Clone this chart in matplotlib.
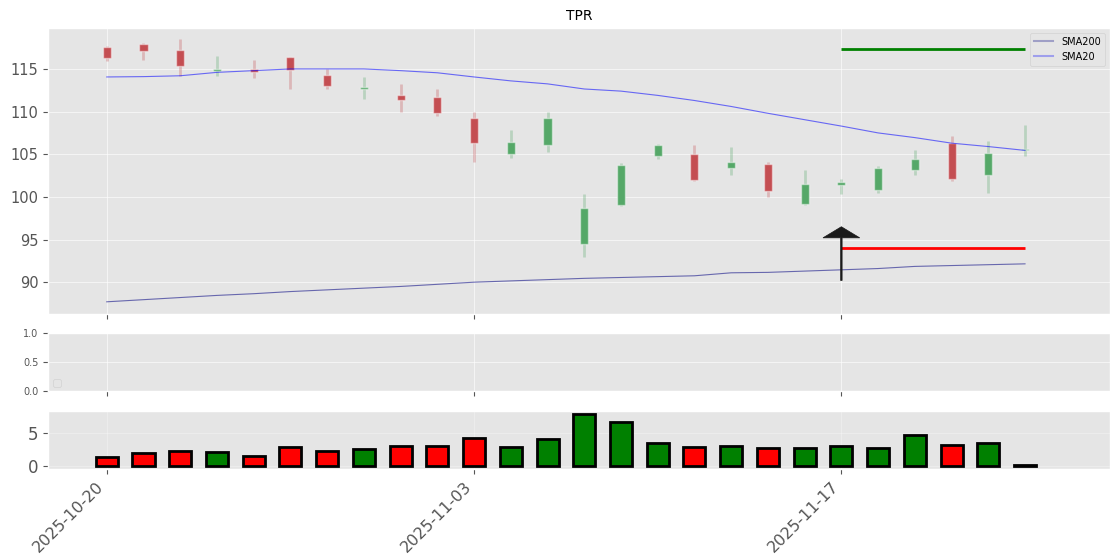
import matplotlib
matplotlib.use('Agg')
import matplotlib.pyplot as plt
import numpy as np

plt.style.use('ggplot')

# trading days shown on the x axis (index based)
dates = ['2025-10-20', '2025-10-21', '2025-10-22', '2025-10-23', '2025-10-24',
         '2025-10-27', '2025-10-28', '2025-10-29', '2025-10-30', '2025-10-31',
         '2025-11-03', '2025-11-04', '2025-11-05', '2025-11-06', '2025-11-07',
         '2025-11-10', '2025-11-11', '2025-11-12', '2025-11-13', '2025-11-14',
         '2025-11-17', '2025-11-18', '2025-11-19', '2025-11-20', '2025-11-21',
         '2025-11-24']

opens  = [117.6, 117.9, 117.2, 114.8, 114.95, 116.4, 114.25, 112.7, 112.0, 111.7,
          109.2, 105.0, 106.1, 94.5, 99.0, 104.8, 105.0, 103.4, 103.8, 99.2,
          101.45, 100.85, 103.2, 106.3, 102.6, 105.5]
closes = [116.3, 117.1, 115.3, 114.95, 114.7, 114.9, 113.05, 112.9, 111.4, 109.8,
          106.35, 106.4, 109.3, 98.7, 103.7, 106.05, 102.0, 104.05, 100.7, 101.5,
          101.7, 103.35, 104.4, 102.1, 105.2, 105.6]
highs  = [117.7, 118.0, 118.5, 116.5, 116.0, 116.4, 115.0, 114.0, 113.2, 112.7,
          110.0, 107.8, 110.0, 100.3, 104.0, 106.2, 106.05, 105.8, 104.1, 103.1,
          102.1, 103.6, 105.45, 107.1, 106.6, 108.4]
lows   = [115.9, 116.0, 114.2, 114.2, 113.9, 112.65, 112.65, 111.5, 110.0, 109.5,
          104.1, 104.6, 105.3, 93.0, 98.9, 104.4, 101.9, 102.6, 100.0, 99.0,
          100.3, 100.4, 102.6, 101.9, 100.5, 104.75]

sma20  = [114.06, 114.1, 114.2, 114.6, 114.8, 115.0, 115.0, 115.0, 114.8, 114.55,
          114.06, 113.6, 113.25, 112.65, 112.4, 111.9, 111.3, 110.6, 109.8, 109.05,
          108.3, 107.5, 106.95, 106.3, 105.9, 105.45]
sma200 = [87.7, 87.95, 88.2, 88.45, 88.65, 88.9, 89.1, 89.3, 89.5, 89.75,
          90.0, 90.15, 90.3, 90.45, 90.55, 90.65, 90.75, 91.1, 91.15, 91.3,
          91.45, 91.6, 91.85, 91.95, 92.05, 92.15]

volume = [1.45, 2.05, 2.4, 2.2, 1.5, 2.95, 2.4, 2.7, 3.1, 3.05,
          4.3, 2.95, 4.1, 8.02, 6.7, 3.55, 2.95, 3.1, 2.8, 2.8,
          3.1, 2.8, 4.8, 3.3, 3.55, 0.18]
vol_colors = ['red', 'red', 'red', 'green', 'red', 'red', 'red', 'green', 'red', 'red',
              'red', 'green', 'green', 'green', 'green', 'green', 'red', 'green', 'red', 'green',
              'green', 'green', 'green', 'red', 'green', 'green']

signal_idx = 20
target_price = 117.3
stop_price = 94.0
arrow_start, arrow_tip = 90.2, 96.5

x = np.arange(len(dates))
up = np.array(closes) >= np.array(opens)
candle_col = np.where(up, '#55a868', '#c44e52')

fig, (ax, ax2, ax3) = plt.subplots(3, 1, sharex=True, figsize=(11.2, 5.6), dpi=100,
                                   gridspec_kw={'height_ratios': [286, 58, 58]})
fig.subplots_adjust(left=48/1120, right=1109.5/1120, top=1-28/560, bottom=1-469/560, hspace=0.147)

# candles
ax.vlines(x, lows, highs, colors=candle_col, alpha=0.3, linewidth=2, zorder=2)
body = np.abs(np.array(closes) - np.array(opens))
body = np.maximum(body, 0.15)
ax.bar(x, body, bottom=np.minimum(opens, closes), width=0.22, color=candle_col,
       edgecolor=(1, 1, 1, 0.45), linewidth=1, zorder=3)

ax.plot(x, sma200, color='navy', alpha=0.55, linewidth=0.8, label='SMA200', zorder=4)
ax.plot(x, sma20, color='blue', alpha=0.55, linewidth=0.8, label='SMA20', zorder=4)

ax.hlines(target_price, signal_idx, x[-1], color='green', linewidth=2, zorder=5)
ax.hlines(stop_price, signal_idx, x[-1], color='red', linewidth=2, zorder=5)
ax.arrow(signal_idx, arrow_start, 0, arrow_tip - arrow_start, width=0.04, head_width=1.0,
         head_length=1.3, length_includes_head=True, color='#1a1a1a', zorder=6)

leg = ax.legend(loc='upper right', fontsize=7)
for h in leg.get_lines():
    h.set_alpha(0.3)
    h.set_linewidth(1.5)

ax.set_title('TPR', fontsize=10)
ax.set_ylim(86.3, 119.8)
ax.set_yticks([90, 95, 100, 105, 110, 115])
ax.tick_params(axis='y', labelsize=10.5)
ax.grid(alpha=0.6)

# empty middle panel
ax2.set_ylim(0, 1)
ax2.set_yticks([0.0, 0.5, 1.0])
ax2.tick_params(axis='y', labelsize=7)
ax2.grid(alpha=0.6)
ax2.legend(handles=[], loc='lower left', fontsize=7)

# volume
ax3.bar(x, volume, width=0.6, color=vol_colors, edgecolor='black', linewidth=2)
ax3.set_ylim(-0.41, 8.42)
ax3.set_yticks([0, 5])
ax3.tick_params(axis='y', labelsize=12)
ax3.grid(alpha=0.3)

ax3.set_xlim(-1.6, 27.3)
ax3.set_xticks([0, 10, 20])
ax3.set_xticklabels([dates[0], dates[10], dates[20]], rotation=45, ha='right', fontsize=11.5)

fig.savefig('out.png', dpi=100)
